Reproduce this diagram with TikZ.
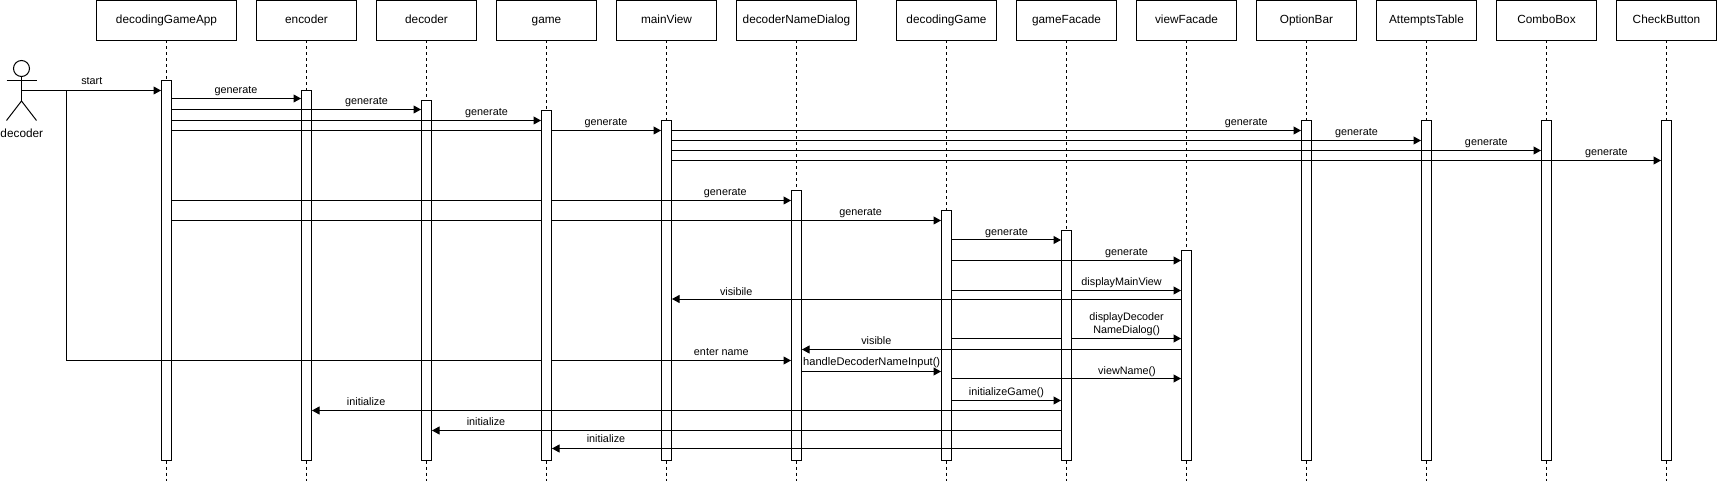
\documentclass[tikz,border=0pt]{standalone}
\usepackage{fontspec}
\setmainfont{Liberation Sans}
\usetikzlibrary{arrows.meta,positioning}

\tikzset{
  headbox/.style={draw,rectangle,minimum height=40pt,outer sep=0pt,inner sep=0pt,text height=9pt,text depth=2pt,font=\fontsize{11.8pt}{14pt}\selectfont},
  barbox/.style={draw,fill=white,rectangle,minimum width=10pt,outer sep=0pt,inner sep=0pt},
  lifeline/.style={dash pattern=on 3pt off 3pt},
  msg/.style={-{Triangle[length=7.5pt,width=8pt]},shorten >=0.5pt},
  msglabel/.style={anchor=base,inner sep=0pt,font=\fontsize{10.8pt}{13pt}\selectfont}
}

\begin{document}
\begin{tikzpicture}[x=1pt,y=-1pt,line width=1pt]
\useasboundingbox (0,0) rectangle (1717,481);
\coordinate (bottom) at (0,481);
% heads
\node[headbox,minimum width=140pt] (apphead) at (166.5,20.5) {decodingGameApp};
\node[headbox,minimum width=100pt] (enchead) at (306.5,20.5) {encoder};
\node[headbox,minimum width=100pt] (dechead) at (426.5,20.5) {decoder};
\node[headbox,minimum width=100pt] (gamehead) at (546.5,20.5) {game};
\node[headbox,minimum width=100pt] (mainhead) at (666.5,20.5) {mainView};
\node[headbox,minimum width=120pt] (dialoghead) at (796.5,20.5) {decoderNameDialog};
\node[headbox,minimum width=100pt] (dghead) at (946.5,20.5) {decodingGame};
\node[headbox,minimum width=100pt] (gfhead) at (1066.5,20.5) {gameFacade};
\node[headbox,minimum width=100pt] (vfhead) at (1186.5,20.5) {viewFacade};
\node[headbox,minimum width=100pt] (opthead) at (1306.5,20.5) {OptionBar};
\node[headbox,minimum width=100pt] (atthead) at (1426.5,20.5) {AttemptsTable};
\node[headbox,minimum width=100pt] (combohead) at (1546.5,20.5) {ComboBox};
\node[headbox,minimum width=100pt] (checkhead) at (1666.5,20.5) {CheckButton};
% lifelines
\draw[lifeline] (apphead) -- (apphead |- bottom);
\draw[lifeline] (enchead) -- (enchead |- bottom);
\draw[lifeline] (dechead) -- (dechead |- bottom);
\draw[lifeline] (gamehead) -- (gamehead |- bottom);
\draw[lifeline] (mainhead) -- (mainhead |- bottom);
\draw[lifeline] (dialoghead) -- (dialoghead |- bottom);
\draw[lifeline] (dghead) -- (dghead |- bottom);
\draw[lifeline] (gfhead) -- (gfhead |- bottom);
\draw[lifeline] (vfhead) -- (vfhead |- bottom);
\draw[lifeline] (opthead) -- (opthead |- bottom);
\draw[lifeline] (atthead) -- (atthead |- bottom);
\draw[lifeline] (combohead) -- (combohead |- bottom);
\draw[lifeline] (checkhead) -- (checkhead |- bottom);
% actor
\node[draw,circle,minimum size=16pt,inner sep=0pt,outer sep=0pt] (actorhead) at (21.5,68.5) {};
\coordinate (hip) at (21.5,101);
\coordinate (handl) at (6.5,80.5);
\coordinate (handr) at (36.5,80.5);
\coordinate (footl) at (6.5,120.5);
\coordinate (footr) at (36.5,120.5);
\coordinate (chest) at (21.5,90.5);
\coordinate (branch) at (66.5,90.5);
\draw (actorhead) -- (hip);
\draw (handl) -- (handr);
\draw (footl) -- (hip) -- (footr);
\node[msglabel,font=\fontsize{11.8pt}{14pt}\selectfont] (actorname) at (21.8,138) {decoder};
% bars
\node[barbox,minimum height=380pt] (appbar) at (166.5,270.5) {};
\node[barbox,minimum height=370pt] (encbar) at (306.5,275.5) {};
\node[barbox,minimum height=360pt] (decbar) at (426.5,280.5) {};
\node[barbox,minimum height=340pt] (mainbar) at (666.5,290.5) {};
\node[barbox,minimum height=270pt] (dialogbar) at (796.5,325.5) {};
\node[barbox,minimum height=250pt] (dgbar) at (946.5,335.5) {};
\node[barbox,minimum height=210pt] (vfbar) at (1186.5,355.5) {};
\node[barbox,minimum height=340pt] (optbar) at (1306.5,290.5) {};
\node[barbox,minimum height=340pt] (attbar) at (1426.5,290.5) {};
\node[barbox,minimum height=340pt] (combobar) at (1546.5,290.5) {};
\node[barbox,minimum height=340pt] (checkbar) at (1666.5,290.5) {};
% these run behind game and gameFacade
\draw[msg] (appbar.east |- 0,130.5) -- (mainbar.west |- 0,130.5);
\draw[msg] (appbar.east |- 0,200.5) -- (dialogbar.west |- 0,200.5);
\draw[msg] (appbar.east |- 0,220.5) -- (dgbar.west |- 0,220.5);
\draw[msg] (branch) -- (branch |- 0,360.5) -- (dialogbar.west |- 0,360.5);
\draw[msg] (dgbar.east |- 0,290.5) -- (vfbar.west |- 0,290.5);
\draw[msg] (dgbar.east |- 0,338.5) -- (vfbar.west |- 0,338.5);
\node[barbox,minimum height=350pt] (gamebar) at (546.5,285.5) {};
\node[barbox,minimum height=230pt] (gfbar) at (1066.5,345.5) {};
% the other calls
\draw[msg] (chest) -- (appbar.west |- chest);
\draw[msg] (appbar.east |- 0,98.5) -- (encbar.west |- 0,98.5);
\draw[msg] (appbar.east |- 0,109.5) -- (decbar.west |- 0,109.5);
\draw[msg] (appbar.east |- 0,120.5) -- (gamebar.west |- 0,120.5);
\draw[msg] (mainbar.east |- 0,130.5) -- (optbar.west |- 0,130.5);
\draw[msg] (mainbar.east |- 0,140.5) -- (attbar.west |- 0,140.5);
\draw[msg] (mainbar.east |- 0,150.5) -- (combobar.west |- 0,150.5);
\draw[msg] (mainbar.east |- 0,160.5) -- (checkbar.west |- 0,160.5);
\draw[msg] (dgbar.east |- 0,240) -- (gfbar.west |- 0,240);
\draw[msg] (dgbar.east |- 0,260.5) -- (vfbar.west |- 0,260.5);
\draw[msg] (vfbar.west |- 0,299) -- (mainbar.east |- 0,299);
\draw[msg] (vfbar.west |- 0,349.5) -- (dialogbar.east |- 0,349.5);
\draw[msg] (dialogbar.east |- 0,371.5) -- (dgbar.west |- 0,371.5);
\draw[msg] (dgbar.east |- 0,378.5) -- (vfbar.west |- 0,378.5);
\draw[msg] (dgbar.east |- 0,400.5) -- (gfbar.west |- 0,400.5);
\draw[msg] (gfbar.west |- 0,410.5) -- (encbar.east |- 0,410.5);
\draw[msg] (gfbar.west |- 0,430.5) -- (decbar.east |- 0,430.5);
\draw[msg] (gfbar.west |- 0,448.5) -- (gamebar.east |- 0,448.5);
% labels
\node[msglabel] (startlabel) at (91.8,85) {start};
\node[msglabel] (genenc) at (236,93.5) {generate};
\node[msglabel] (gendec) at (366.5,104.5) {generate};
\node[msglabel] (gengame) at (486.5,115.5) {generate};
\node[msglabel] (genmain) at (606,125.5) {generate};
\node[msglabel] (genopt) at (1246.2,125.5) {generate};
\node[msglabel] (genatt) at (1356.5,135.5) {generate};
\node[msglabel] (gencombo) at (1486.3,145.5) {generate};
\node[msglabel] (gencheck) at (1606.4,155.5) {generate};
\node[msglabel] (gendialog) at (725.3,195.5) {generate};
\node[msglabel] (gendg) at (860.6,215.5) {generate};
\node[msglabel] (gengf) at (1006.5,236) {generate};
\node[msglabel] (genvf) at (1126.5,255.5) {generate};
\node[msglabel] (showmain) at (1121.6,286) {displayMainView};
\node[msglabel] (visibilelabel) at (736.2,295) {visibile};
\node[msglabel,anchor=south,align=center] (showdialog) at (1126.6,336.5) {displayDecoder\\NameDialog()};
\node[msglabel] (visiblelabel) at (876.3,344.5) {visible};
\node[msglabel] (entername) at (721.3,355.5) {enter name};
\node[msglabel,font=\fontsize{11.1pt}{13pt}\selectfont] (handleinput) at (871.7,365.7) {handleDecoderNameInput()};
\node[msglabel] (viewname) at (1127,374.5) {viewName()};
\node[msglabel] (initgame) at (1006.5,395.5) {initializeGame()};
\node[msglabel] (initenc) at (366.2,405.5) {initialize};
\node[msglabel] (initdec) at (486,425.5) {initialize};
\node[msglabel] (initgamebar) at (606,442) {initialize};
\end{tikzpicture}
\end{document}
